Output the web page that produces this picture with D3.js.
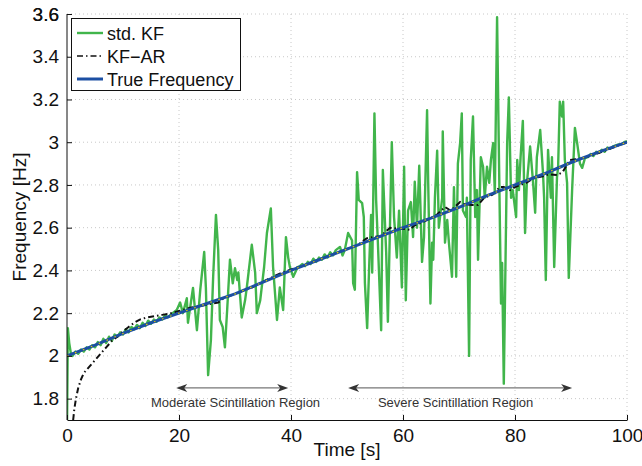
<!DOCTYPE html>
<html>
<head>
<meta charset="utf-8">
<script src="https://cdn.jsdelivr.net/npm/d3@7"></script>
<style>
  body { margin: 0; background: #fff; }
  svg { display: block; font-family: "Liberation Sans", Arial, sans-serif; }
</style>
</head>
<body>
<div id="chart"></div>
<script>
// data: [time s, frequency Hz]
var trueFreq = [[0,2.00],[5,2.05],[10,2.105],[15,2.155],[20,2.20],[25,2.245],[30,2.29],[35,2.345],[40,2.40],
  [45,2.45],[50,2.50],[55,2.55],[60,2.60],[65,2.645],[70,2.695],[75,2.75],[80,2.80],[85,2.85],[90,2.905],[95,2.955],[100,3.00]]

var kfAR = [[1.1,1.70],[1.3,1.75],[1.6,1.80],[2.0,1.85],[2.5,1.89],[3.0,1.92],[4.0,1.95],[5.0,1.98],[6.0,2.01],
  [7.0,2.04],[8.0,2.07],[9.0,2.09],[10,2.115],[11,2.135],[12,2.155],[13,2.17],[14,2.178],[15,2.183],[16,2.188],
  [17,2.192],[18,2.196],[20,2.21],[22,2.225],[24,2.235],[26,2.245],[27,2.25],[28,2.27],[30,2.29],[33,2.32],
  [36,2.36],[38,2.385],[40,2.405],[42,2.42],[44,2.44],[46,2.46],[48,2.48],[50,2.50],[52,2.52],[53.5,2.55],
  [54.6,2.556],[56,2.56],[57.7,2.60],[59,2.595],[60,2.595],[61.25,2.59],[62,2.61],[63.6,2.627],[65,2.645],
  [66,2.66],[67.5,2.697],[68.5,2.68],[70.2,2.72],[71,2.71],[72.3,2.706],[73.4,2.706],[74.5,2.74],[76,2.755],
  [77.3,2.79],[78,2.79],[79.1,2.776],[80,2.79],[81,2.80],[82,2.81],[83.2,2.83],[84,2.835],[85,2.84],[86,2.85],
  [87.5,2.846],[88.5,2.86],[89.8,2.917],[91,2.92],[92,2.925],[94,2.94],[96,2.96],[98,2.98],[100,3.00]]

var stdKF = [[0,1.65],[0.15,2.13],[0.4,2.06],[0.7,2.01],[1.0,2.00],[1.5,2.02],[2.0,2.01],[2.5,2.03],[3.0,2.02],
  [3.5,2.04],[4.0,2.03],[4.5,2.05],[5.0,2.04],[5.5,2.065],[6.0,2.05],[6.5,2.08],[7.0,2.06],[7.5,2.09],[8.0,2.07],
  [8.5,2.10],[9.0,2.09],[9.5,2.11],[10,2.10],[10.5,2.125],[11,2.11],[11.5,2.135],[12,2.125],[12.5,2.145],
  [13,2.13],[13.5,2.155],[14,2.14],[14.5,2.165],[15,2.15],[15.5,2.17],[16,2.16],[16.5,2.18],[17,2.17],
  [17.5,2.19],[18,2.18],[18.4,2.19],[19.6,2.215],[20.2,2.25],[20.7,2.20],[21.4,2.27],[21.6,2.155],[22.5,2.318],
  [23.2,2.12],[23.8,2.31],[24.5,2.486],[24.8,2.32],[25.2,1.91],[25.7,2.075],[26.1,2.37],[26.6,2.66],[27.0,2.495],
  [27.3,2.168],[27.8,2.135],[28.2,2.04],[28.6,2.215],[29.1,2.45],[29.6,2.34],[30.0,2.41],[30.4,2.355],[30.6,2.39],
  [31.2,2.18],[31.8,2.26],[32.1,2.318],[33.0,2.52],[33.6,2.39],[33.9,2.20],[34.5,2.26],[35.2,2.416],[35.7,2.575],
  [36.4,2.69],[36.8,2.416],[37.5,2.168],[38.0,2.32],[38.6,2.215],[39.1,2.556],[39.5,2.46],[39.8,2.416],[40.4,2.37],
  [41.2,2.416],[41.6,2.42],[42.0,2.43],[42.5,2.42],[43.0,2.44],[43.5,2.43],[44.0,2.455],[44.5,2.44],[45.0,2.46],
  [45.5,2.45],[46.0,2.475],[46.5,2.46],[47.0,2.485],[47.5,2.47],[48.0,2.495],[48.75,2.51],[49.2,2.47],[49.6,2.495],
  [50.2,2.575],[50.9,2.54],[51.1,2.34],[51.4,2.31],[51.8,2.86],[52.1,2.73],[52.7,2.715],[53.0,2.65],[53.2,2.34],
  [53.6,2.13],[54.0,2.45],[54.3,2.66],[54.5,2.39],[54.9,3.135],[55.2,2.73],[55.5,2.54],[56.1,2.12],[56.4,2.87],
  [57.0,2.48],[57.3,2.16],[58.0,3.0],[58.4,2.65],[58.9,2.46],[59.3,2.68],[59.8,2.32],[60.2,2.885],[60.5,2.26],
  [60.9,2.68],[61.4,2.72],[61.8,2.556],[62.1,2.815],[62.5,2.60],[62.9,2.89],[63.4,2.44],[63.75,2.556],[64.3,3.15],
  [64.5,2.81],[64.9,2.245],[65.2,2.53],[65.4,2.45],[65.7,2.74],[66.1,2.96],[66.4,2.60],[67.0,2.74],[67.1,3.05],
  [67.5,2.53],[67.9,2.636],[68.2,2.53],[68.75,2.37],[69.1,2.79],[69.5,2.37],[69.8,2.90],[70.2,2.996],[70.5,3.135],
  [70.7,2.68],[71.25,2.65],[71.4,2.74],[71.8,2.0],[72.1,2.917],[72.5,3.12],[72.9,2.65],[73.2,2.776],[73.4,2.45],
  [73.9,2.93],[74.3,2.885],[74.6,2.74],[75.0,2.885],[75.4,2.81],[75.7,2.917],[76.1,2.996],[76.4,2.76],[76.8,3.585],
  [77.1,2.996],[77.5,2.245],[77.7,2.435],[78.0,1.87],[78.6,2.996],[78.9,3.21],[79.3,2.74],[79.6,2.776],[80.2,2.65],
  [80.4,2.917],[80.7,2.776],[81.0,2.93],[81.4,3.10],[81.8,2.575],[82.1,2.80],[82.7,2.98],[83.2,2.82],[83.6,2.67],
  [83.9,2.93],[84.5,3.057],[85.0,2.855],[85.2,2.74],[85.5,2.355],[85.9,2.964],[86.4,2.74],[86.6,2.93],[87.0,2.416],
  [87.5,2.837],[87.7,2.885],[88.0,3.19],[88.4,3.12],[88.6,3.19],[88.9,2.917],[89.3,2.81],[89.6,2.365],[90.2,2.776],
  [90.7,3.067],[91.1,2.996],[91.6,2.90],[92.0,2.88],[92.5,2.926],[93.0,2.93],[93.5,2.945],[94.0,2.935],[94.5,2.955],
  [95.0,2.95],[95.5,2.965],[96.0,2.955],[96.5,2.975],[97.0,2.97],[97.5,2.98],[98.0,2.985],[98.5,2.99],[99.0,2.99],
  [99.5,3.0],[100,3.005]]

var xTicks = [0, 20, 40, 60, 80, 100]
var yTicks = [1.8, 2.0, 2.2, 2.4, 2.6, 2.8, 3.0, 3.2, 3.4, 3.6]
var legendNames = ['std. KF', 'KF\u2212AR', 'True Frequency']
var regions = [{name: 'Moderate Scintillation Region', from: 19.5, to: 39.5, label: 30.1},
               {name: 'Severe Scintillation Region', from: 50.2, to: 90.2, label: 69.4}]

var W = 642, H = 466
var green = '#41b54b', blue = '#1c4fa3'

var svg = d3.select('#chart').append('svg')
    .attr('width', W)
    .attr('height', H)

var x = d3.scaleLinear().domain([0, 100]).range([67, 627])
var y = d3.scaleLinear().domain([1.7, 3.6]).range([420, 14])

// dotted grid
svg.append('g').selectAll('line').data(xTicks.slice(1)).join('line')
    .attr('x1', d => x(d)).attr('x2', d => x(d))
    .attr('y1', y(3.6)).attr('y2', y(1.7))
    .style('stroke', '#c8c8c8').style('stroke-dasharray', '1,3')
svg.append('g').selectAll('line').data(yTicks).join('line')
    .attr('x1', x(0)).attr('x2', x(100))
    .attr('y1', d => y(d)).attr('y2', d => y(d))
    .style('stroke', '#c8c8c8').style('stroke-dasharray', '1,3')

svg.append('clipPath').attr('id', 'plot')
  .append('rect')
    .attr('x', x(0)).attr('y', y(3.6) - 2)
    .attr('width', x(100) - x(0)).attr('height', y(1.7) - y(3.6) + 2)

var line = d3.line().x(d => x(d[0])).y(d => y(d[1]))
var plot = svg.append('g').attr('clip-path', 'url(#plot)')

plot.append('path').datum(stdKF)
    .attr('d', line)
    .style('fill', 'none').style('stroke', green).style('stroke-width', 2.4)
    .style('stroke-linejoin', 'round')
plot.append('path').datum(kfAR)
    .attr('d', line)
    .style('fill', 'none').style('stroke', '#111').style('stroke-width', 2)
    .style('stroke-dasharray', '6,3,1.5,3')
plot.append('path').datum(trueFreq)
    .attr('d', line)
    .style('fill', 'none').style('stroke', blue).style('stroke-width', 3)
plot.append('path').datum(trueFreq)
    .attr('d', line)
    .style('fill', 'none').style('stroke', '#e0cc00').style('stroke-width', 1.2)
    .style('stroke-dasharray', '1.5,7')

// axes, matlab style ticks pointing inward
var fmt = d => String(+d.toFixed(1))
svg.append('g')
    .attr('transform', 'translate(' + x(0) + ',0)')
    .call(d3.axisLeft(y).tickValues(yTicks.concat([3.6])).tickFormat(fmt).tickSizeInner(-5).tickSizeOuter(0).tickPadding(8))
    .call(g => g.select('.domain').attr('d', 'M0,' + y(3.6) + 'V' + y(1.7)))
svg.append('g')
    .attr('transform', 'translate(0,' + y(1.7) + ')')
    .call(d3.axisBottom(x).tickValues(xTicks).tickFormat(fmt).tickSizeInner(-5).tickSizeOuter(0).tickPadding(9))
svg.selectAll('.tick text').style('font-size', '19px').style('fill', '#111')
svg.selectAll('.domain, .tick line').style('stroke', '#111')

svg.append('text')
    .attr('x', (x(0) + x(100)) / 2 - 0)
    .attr('y', 456)
    .attr('text-anchor', 'middle')
    .style('font-size', '19px').style('fill', '#111')
    .text('Time [s]')
svg.append('text')
    .attr('transform', 'translate(26,' + y(2.65) + ') rotate(-90)')
    .attr('text-anchor', 'middle')
    .style('font-size', '19px').style('fill', '#111')
    .text('Frequency [Hz]')

// scintillation region annotations
var ay = y(1.85)
regions.forEach(function(r) {
  var x1 = x(r.from), x2 = x(r.to)
  svg.append('line')
      .attr('x1', x1 + 4).attr('x2', x2 - 4).attr('y1', ay).attr('y2', ay)
      .style('stroke', '#777').style('stroke-width', 1.2)
  svg.append('path')
      .attr('d', 'M' + x1 + ',' + ay + 'l11,-4l-3,4l3,4z')
      .style('fill', '#333')
  svg.append('path')
      .attr('d', 'M' + x2 + ',' + ay + 'l-11,-4l3,4l-3,4z')
      .style('fill', '#333')
  svg.append('text')
      .attr('x', x(r.label)).attr('y', ay + 19)
      .attr('text-anchor', 'middle')
      .style('font-size', '13px').style('fill', '#333')
      .text(r.name)
})

// legend
var leg = svg.append('g')
leg.append('rect')
    .attr('x', 71.5).attr('y', 18.5).attr('width', 169).attr('height', 72)
    .style('fill', '#fff').style('stroke', '#111')
var legStyles = [
  {stroke: green, width: 2.4, dash: null},
  {stroke: '#111', width: 1.5, dash: '6,3,1.5,3'},
  {stroke: blue, width: 3, dash: null}]
legendNames.forEach(function(name, i) {
  var ly = 33 + i * 23
  leg.append('line')
      .attr('x1', 77).attr('x2', 103).attr('y1', ly).attr('y2', ly)
      .style('stroke', legStyles[i].stroke).style('stroke-width', legStyles[i].width)
      .style('stroke-dasharray', legStyles[i].dash)
  leg.append('text')
      .attr('x', 107).attr('y', ly + 6.5)
      .style('font-size', '18px').style('fill', '#111')
      .text(name)
})
</script>
</body>
</html>
